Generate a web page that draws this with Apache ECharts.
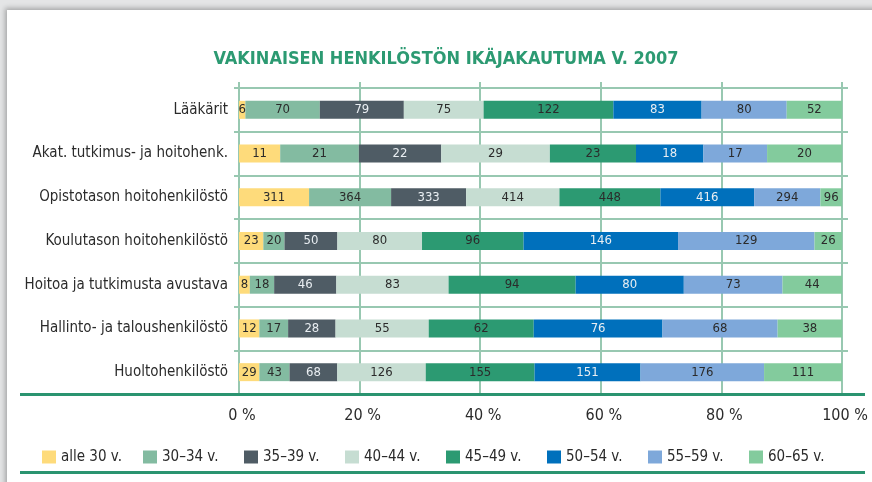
<!DOCTYPE html>
<html lang="fi">
<head>
  <meta charset="utf-8">
  <title>Vakinaisen henkilöstön ikäjakautuma</title>
  <script src="https://cdn.jsdelivr.net/npm/echarts@6/dist/echarts.min.js"></script>
  <style>
    html, body { margin: 0; padding: 0; background: #e4e5e6; overflow: hidden; }
    #card {
      position: absolute; left: 7px; top: 10px; width: 880px; height: 490px;
      background: #fff; box-shadow: -2px -2px 5px rgba(0, 0, 0, 0.28);
    }
    #chart { position: absolute; left: 0; top: 0; width: 872px; height: 482px; }
  </style>
</head>
<body>
<div id="card"></div>
<div id="chart"></div>

<script>
  // henkilöstöryhmät (ylhäältä alas)
  const categories = [
    'Lääkärit',
    'Akat. tutkimus- ja hoitohenk.',
    'Opistotason hoitohenkilöstö',
    'Koulutason hoitohenkilöstö',
    'Hoitoa ja tutkimusta avustava',
    'Hallinto- ja taloushenkilöstö',
    'Huoltohenkilöstö'
  ];

  // ikäryhmät
  const ageGroups = ['alle 30 v.', '30–34 v.', '35–39 v.', '40–44 v.', '45–49 v.', '50–54 v.', '55–59 v.', '60–65 v.'];

  // henkilömäärät ikäryhmittäin
  const alle30 = [6, 11, 311, 23, 8, 12, 29];
  const age30_34 = [70, 21, 364, 20, 18, 17, 43];
  const age35_39 = [79, 22, 333, 50, 46, 28, 68];
  const age40_44 = [75, 29, 414, 80, 83, 55, 126];
  const age45_49 = [122, 23, 448, 96, 94, 62, 155];
  const age50_54 = [83, 18, 416, 146, 80, 76, 151];
  const age55_59 = [80, 17, 294, 129, 73, 68, 176];
  const age60_65 = [52, 20, 96, 26, 44, 38, 111];

  const xTicks = [0, 20, 40, 60, 80, 100];

  const counts = [alle30, age30_34, age35_39, age40_44, age45_49, age50_54, age55_59, age60_65];
  const colors = ['#fedb7b', '#83bba1', '#4f5c65', '#c6ddd2', '#2c9a72', '#0070bc', '#7ea8da', '#83cb9d'];
  const labelColors = ['#2b2b2b', '#2b2b2b', '#e9eef2', '#2b2b2b', '#2b2b2b', '#e9eef2', '#2b2b2b', '#2b2b2b'];

  const gridColor = '#98c8b1';
  const ruleColor = '#2a9470';
  const font = '"Liberation Sans Narrow", "DejaVu Sans Condensed", sans-serif';

  const totals = categories.map((c, i) => counts.reduce((s, arr) => s + arr[i], 0));

  const series = ageGroups.map((name, s) => ({
    name: name,
    type: 'bar',
    stack: 'total',
    xAxisIndex: 0,
    yAxisIndex: 0,
    barWidth: 18,
    itemStyle: { color: colors[s] },
    label: {
      show: true,
      position: 'inside',
      fontFamily: font,
      fontSize: 13,
      color: labelColors[s],
      formatter: p => String(counts[s][p.dataIndex])
    },
    emphasis: { disabled: true },
    data: counts[s].map((v, i) => v / totals[i] * 100)
  }));

  const chart = echarts.init(document.getElementById('chart'));
  chart.setOption({
    backgroundColor: 'transparent',
    animation: false,
    title: {
      text: 'VAKINAISEN HENKILÖSTÖN IKÄJAKAUTUMA V. 2007',
      left: 441,
      textAlign: 'center',
      top: 45,
      textStyle: { fontFamily: font, fontSize: 18, fontWeight: 'bold', color: '#2c9a72' }
    },
    legend: {
      data: ageGroups,
      left: 37,
      top: 444,
      icon: 'rect',
      itemWidth: 14,
      itemHeight: 13,
      itemGap: 6,
      selectedMode: false,
      textStyle: { fontFamily: font, fontSize: 15, color: '#2b2b2b', width: 76, lineHeight: 16 }
    },
    grid: [
      { left: 239, right: 30, top: 88, bottom: 88, outerBoundsMode: 'none' },
      { left: 234, right: 24, top: 88, bottom: 88, outerBoundsMode: 'none' }
    ],
    xAxis: [
      {
        type: 'value', gridIndex: 0, position: 'bottom',
        min: 0, max: 100, interval: 20,
        axisLine: { show: false },
        axisTick: { show: false },
        axisLabel: {
          margin: 14, fontFamily: font, fontSize: 16, color: '#2b2b2b',
          padding: [0, 0, 0, 6],
          formatter: v => xTicks.includes(v) ? v + ' %' : ''
        },
        splitLine: { show: true, lineStyle: { color: gridColor, width: 2 } }
      },
      {
        type: 'value', gridIndex: 0, position: 'top',
        min: 0, max: 100, interval: 20,
        axisLine: { show: false },
        axisTick: { show: true, length: 6, lineStyle: { color: gridColor, width: 2 } },
        axisLabel: { show: false },
        splitLine: { show: false }
      },
      { type: 'value', gridIndex: 1, show: false }
    ],
    yAxis: [
      {
        type: 'category', gridIndex: 0, data: categories, inverse: true,
        axisLine: { show: false },
        axisTick: { show: false },
        axisLabel: { margin: 11, fontFamily: font, fontSize: 15, color: '#2b2b2b' },
        splitLine: { show: false }
      },
      {
        type: 'category', gridIndex: 1, data: categories, inverse: true,
        axisLine: { show: false },
        axisTick: { show: false },
        axisLabel: { show: false },
        splitLine: { show: true, lineStyle: { color: gridColor, width: 2 } }
      }
    ],
    graphic: [
      { type: 'line', shape: { x1: 20, y1: 394.5, x2: 865, y2: 394.5 }, style: { stroke: ruleColor, lineWidth: 3 }, z: 10 },
      { type: 'line', shape: { x1: 20, y1: 472.5, x2: 865, y2: 472.5 }, style: { stroke: ruleColor, lineWidth: 3 }, z: 10 }
    ],
    series: series
  });
</script>
</body>
</html>
